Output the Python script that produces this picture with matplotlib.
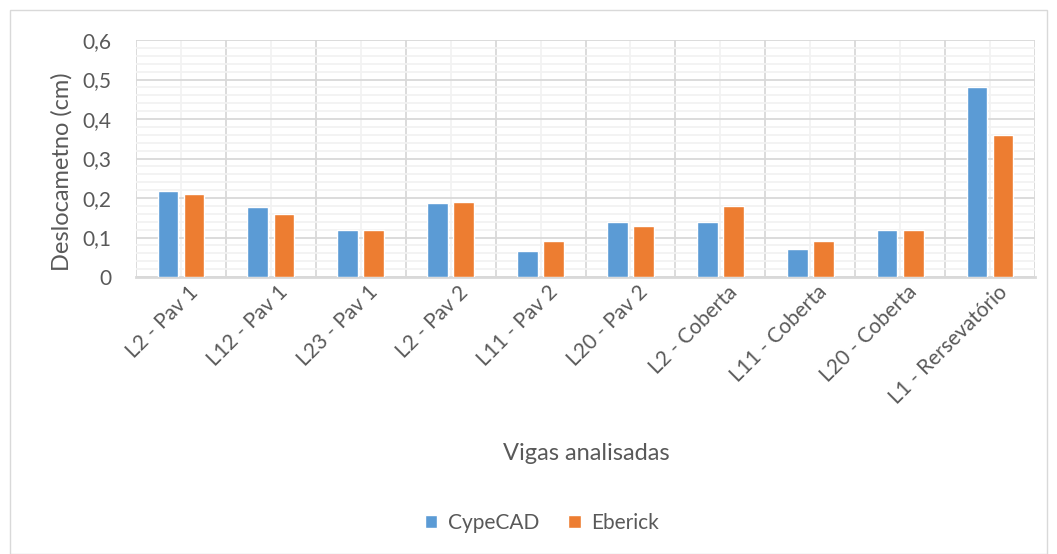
import numpy as np
import matplotlib.pyplot as plt
import matplotlib.transforms as mtransforms
from matplotlib.patches import Rectangle
from matplotlib.ticker import MultipleLocator

# data
vigas = ['L2 - Pav 1', 'L12 - Pav 1', 'L23 - Pav 1', 'L2 - Pav 2', 'L11 - Pav 2',
         'L20 - Pav 2', 'L2 - Coberta', 'L11 - Coberta', 'L20 - Coberta', 'L1 - Rersevatório']
cypecad = [0.217, 0.177, 0.12, 0.187, 0.066, 0.138, 0.14, 0.072, 0.118, 0.48]
eberick = [0.21, 0.16, 0.12, 0.19, 0.09, 0.13, 0.18, 0.09, 0.12, 0.36]

BLUE = '#5b9bd5'
ORANGE = '#ed7d31'
TXT = '#595959'

plt.rcParams['font.family'] = ['Lato', 'DejaVu Sans']

fig = plt.figure(figsize=(10.57, 5.54), dpi=100)
fig.patch.set_facecolor('white')
fig.patches.append(Rectangle((10 / 1057, 0.0), 1037 / 1057, 544 / 554, transform=fig.transFigure,
                             fill=False, edgecolor='#d9d9d9', lw=1))

ax = fig.add_axes([136 / 1057, 0.5, 899 / 1057, 237 / 554])
x = np.arange(len(vigas))
w = 0.23
ax.bar(x - 0.145, cypecad, w, color=BLUE, edgecolor='white', lw=1, label='CypeCAD', zorder=3)
ax.bar(x + 0.145, eberick, w, color=ORANGE, edgecolor='white', lw=1, label='Eberick', zorder=3)

ax.set_xlim(-0.5, len(vigas) - 0.5)
ax.set_ylim(0, 0.6)
ax.yaxis.set_major_locator(MultipleLocator(0.1))
ax.yaxis.set_minor_locator(MultipleLocator(0.02))
ax.set_yticks([0, 0.1, 0.2, 0.3, 0.4, 0.5, 0.6])
ax.set_yticklabels(['0', '0,1', '0,2', '0,3', '0,4', '0,5', '0,6'])

# grid: category borders + centres, major/minor horizontals
ax.set_xticks(x - 0.5, minor=False)
ax.set_xticks(x, minor=True)
ax.grid(which='major', color='#d9d9d9', lw=1.3, zorder=0)
ax.grid(which='minor', color='#f2f2f2', lw=1.3, zorder=0)
ax.axvline(len(vigas) - 0.5, color='#d9d9d9', lw=1.3, zorder=0)
ax.set_axisbelow(True)
ax.set_xticklabels([])
ax.tick_params(which='both', length=0)
ax.tick_params(axis='y', labelsize=15, labelcolor=TXT, pad=18)
for s in ['top', 'right', 'left']:
    ax.spines[s].set_visible(False)
ax.spines['bottom'].set_color('#d9d9d9')
ax.spines['bottom'].set_linewidth(2)

off = mtransforms.ScaledTranslation(14 / 100, -12 / 100, fig.dpi_scale_trans)
for i, lab in enumerate(vigas):
    ax.text(i, 0, lab, rotation=45, ha='right', va='center', rotation_mode='anchor',
            fontsize=15, color=TXT, transform=ax.get_xaxis_transform() + off)

fig.text(62 / 1057, 1 - 172 / 554, 'Deslocametno (cm)', rotation=90, ha='center', va='center',
         fontsize=17, color=TXT)
fig.text(586 / 1057, 1 - 453 / 554, 'Vigas analisadas', ha='center', va='center',
         fontsize=17, color=TXT)

fig.legend(loc='center', bbox_to_anchor=(542 / 1057, 1 - 523 / 554), ncol=2, frameon=False,
           fontsize=15, labelcolor=TXT, handlelength=0.6, handleheight=0.6,
           handletextpad=0.5, columnspacing=1.4)

plt.savefig('out.png', dpi=100)
